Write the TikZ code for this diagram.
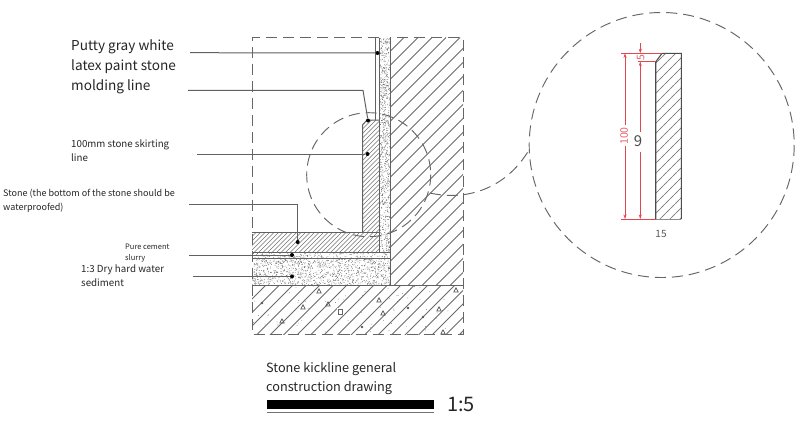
\documentclass[tikz,border=0pt]{standalone}
\usepackage{fontspec}
\setmainfont{Noto Sans CJK SC}
\usetikzlibrary{arrows.meta}
\definecolor{rd}{RGB}{226,70,80}
\tikzset{
  x=1pt,y=-1pt,
  lab/.style={anchor=west,inner sep=0pt,text=black!85,align=left},
  lead/.style={draw=black!62,line width=1pt},
  dot/.style={circle,fill=black,inner sep=0pt,minimum size=4pt},
  outl/.style={draw=black!62,line width=1pt},
  dsh/.style={draw=black!60,line width=0.95pt,dash pattern=on 11pt off 6pt},
  redl/.style={draw=rd,line width=0.7pt},
  redtop/.style={draw=rd,line width=0.7pt,{Stealth[length=4.5pt,width=3pt]}-},
  redbot/.style={draw=rd,line width=0.7pt,-{Stealth[length=4.5pt,width=3pt]}},
  hatchl/.style={draw=black!58,line width=0.85pt},
  hatchs/.style={draw=black!55,line width=0.55pt},
  hatchd/.style={draw=black!50,line width=0.55pt,dash pattern=on 4pt off 2.5pt},
}
\newcommand{\hatchup}[6]{%
  \begin{scope}
    \clip (#1,#2) rectangle (#3,#4);
    \pgfmathsetmacro{\nn}{int((#3-#1+#4-#2)/#5)+1}
    \foreach \k in {0,...,\nn}{
      \draw[#6] ({#1+\k*#5},#2) -- ++({-(#4-#2)-2},{(#4-#2)+2});
    }
  \end{scope}}
\newcommand{\speck}[6]{% x1,y1,x2,y2,count,seed
  \pgfmathsetseed{#6}
  \foreach \i in {1,...,#5}{
    \pgfmathsetmacro{\px}{#1+rnd*(#3-#1)}
    \pgfmathsetmacro{\py}{#2+rnd*(#4-#2)}
    \fill[black!65] (\px,\py) circle (0.38pt);
  }}
\begin{document}
\begin{tikzpicture}
\useasboundingbox (0,0) rectangle (800,421);
\fill[white] (0,0) rectangle (800,421);
% hatches
\hatchup{390}{37.5}{463}{285.5}{14}{hatchl}
\hatchup{252}{285.5}{463}{334}{13.5}{hatchl}
\hatchup{252}{232}{379}{252}{4.5}{hatchs}
\begin{scope}
  \clip (362.5,125) -- (367,120) -- (379,120) -- (379,232) -- (362.5,232) -- cycle;
  \hatchup{362.5}{120}{379}{232}{4.5}{hatchs}
\end{scope}
% speckled layers
\speck{379.5}{38}{390}{252}{800}{11}
\speck{252}{252.5}{390}{257.5}{170}{12}
\speck{252}{258.5}{390}{285}{1100}{13}
\speck{252}{286}{463}{334}{70}{14}
% aggregate marks
\foreach \x/\y in {319/291,303/307,328/304,379/300,383/313,439/309,456/290,443/332,282/321}{
  \draw[black!65,line width=0.7pt] (\x-2.2,\y+2) -- (\x+2.2,\y+2) -- (\x,\y-2.2) -- cycle;
}
\foreach \x/\y in {262/303,408/308,423/317,362/327}{
  \fill[black!65] (\x,\y) circle (1.3pt);
}
\fill[white] (337,308) rectangle (344,315);
\draw[black!60,line width=0.6pt] (338.5,309) rectangle (342.5,314);
% outlines
\draw[dsh] (379,37.5) -- (252,37.5) -- (252,334) -- (463,334) -- (463,37.5) -- (390,37.5);
\draw[outl] (375.5,37.5) -- (375.5,120);
\draw[outl] (379,37.5) -- (379,252);
\draw[outl] (390,37.5) -- (390,285.5);
\draw[outl] (379,120) -- (367,120) -- (362.5,125) -- (362.5,232);
\draw[outl] (252,232) -- (379,232);
\draw[outl] (252,252) -- (390,252);
\draw[outl] (252,258) -- (390,258);
\draw[outl] (252,285.5) -- (463,285.5);
% circles
\coordinate (smallc) at (368.7,174.7);
\coordinate (bigc) at (661.7,145);
\draw[dsh] (smallc) circle (62);
\draw[dsh] (bigc) circle (132.5);
\coordinate (t1) at (430,193);
\coordinate (t3) at (529,150);
\draw[dsh] (t1) .. controls (465,201) and (505,190) .. (t3);
% detail
\begin{scope}
  \clip (655.7,62) -- (662,53.3) -- (681.3,53.3) -- (681.3,219) -- (655.7,219) -- cycle;
  \hatchup{655.7}{53.3}{681.3}{219}{10}{hatchs}
  \begin{scope}[shift={(5,0)}]
    \hatchup{650.7}{53.3}{681.3}{219}{10}{hatchd}
  \end{scope}
\end{scope}
\draw[draw=black!70,line width=1.1pt] (681.3,219) -- (681.3,53.3) -- (662,53.3) -- (655.7,62) -- (655.7,219);
\draw[draw=black!45,line width=0.6pt] (655.7,219) -- (681.3,219);
\draw[redl] (621,53.3) -- (662,53.3);
\draw[redl] (638,61.5) -- (655.7,61.5);
\draw[redl] (621,219) -- (655.7,219);
\draw[redtop] (625,53.3) -- (625,125);
\draw[redbot] (625,146) -- (625,219);
\draw[redtop] (640.3,61.5) -- (640.3,132);
\draw[redbot] (640.3,152) -- (640.3,219);
\draw[redbot] (640.3,43) -- (640.3,53.3);
\node[text=rd!85,rotate=90,font=\fontsize{10.5}{10.5}\selectfont,inner sep=0pt] (d100) at (624,136) {100};
\node[text=rd!85,rotate=90,font=\fontsize{10.5}{10.5}\selectfont,inner sep=0pt] (d5) at (640.7,57.3) {5};
\node[text=black!70,font=\fontsize{15}{15}\selectfont,inner sep=0pt] (d9) at (638,140.7) {9};
\node[text=black!65,font=\fontsize{10}{10}\selectfont,inner sep=0pt] (d15) at (661,234.3) {15};
% dots
\node[dot] (p1) at (377.5,53) {};
\node[dot] (p2) at (368,120.5) {};
\node[dot] (p3) at (367.5,154) {};
\node[dot] (p4) at (297.7,242) {};
\node[dot] (p5) at (292,255) {};
\node[dot] (p6) at (292,276.5) {};
\coordinate (s1) at (190,52.7);
\coordinate (s2) at (188,90.3);
\coordinate (b2) at (363,90.3);
\coordinate (s3) at (197,154);
\coordinate (s4) at (189,204.3);
\coordinate (b4) at (297.7,204.3);
\coordinate (s5) at (189,255);
\coordinate (s6) at (193,276.5);
\draw[lead] (s1) -- (p1);
\draw[lead] (s2) -- (b2) -- (p2);
\draw[lead] (s3) -- (p3);
\draw[lead] (s4) -- (b4) -- (p4);
\draw[lead] (s5) -- (p5);
\draw[lead] (s6) -- (p6);
% labels
\node[lab,font=\fontsize{13.6}{20}\selectfont] (l1) at (71,66.5) {Putty gray white\\latex paint stone\\molding line};
\node[lab,font=\fontsize{9.75}{14}\selectfont] (l2) at (71,151) {100mm stone skirting\\line};
\node[lab,font=\fontsize{9.03}{13.5}\selectfont] (l3) at (3,201) {Stone (the bottom of the stone should be\\waterproofed)};
\node[lab,font=\fontsize{7.5}{11}\selectfont] (l4) at (125,253.5) {Pure cement\\slurry};
\node[lab,font=\fontsize{9.75}{14}\selectfont] (l5) at (81,276) {1:3 Dry hard water\\sediment};
\node[lab,font=\fontsize{12.7}{19}\selectfont] (l6) at (266,378.5) {Stone kickline general\\construction drawing};
\node[lab,font=\fontsize{20}{20}\selectfont] (l7) at (447,404) {1:5};
\fill[black] (267,400) rectangle (434,408.5);
\fill[black!55] (267,411.5) rectangle (434,412.5);
\end{tikzpicture}
\end{document}
